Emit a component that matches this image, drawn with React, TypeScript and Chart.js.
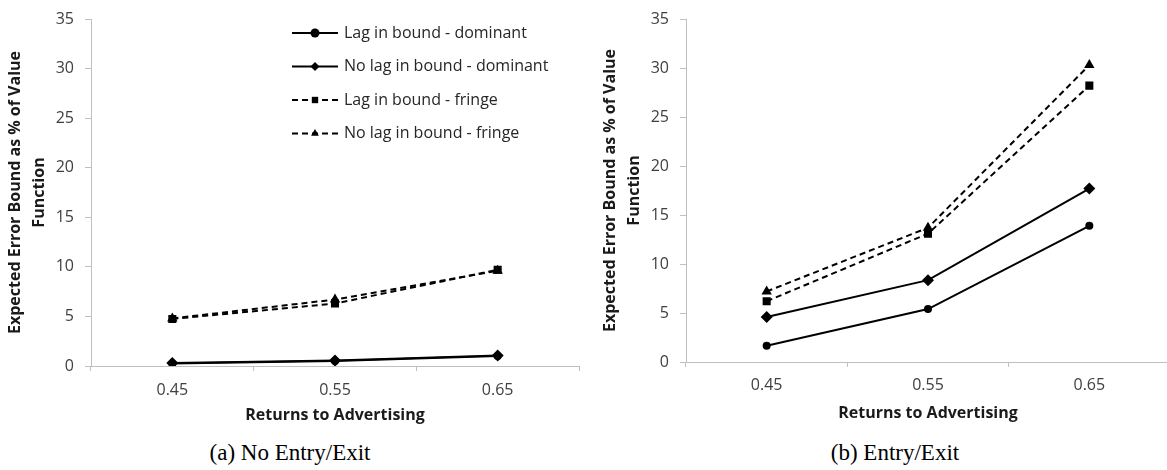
import React, { useEffect, useRef } from 'react';
import { Chart, registerables } from 'chart.js';

Chart.register(...registerables);

// ---------- data ----------
const categories = ['0.45', '0.55', '0.65'];
const seriesLabels = [
  'Lag in bound - dominant',
  'No lag in bound - dominant',
  'Lag in bound - fringe',
  'No lag in bound - fringe',
];
const yMin = 0;
const yMax = 35;
const yStep = 5;

// (a) No Entry/Exit
const noEntryLagDominant = [0.25, 0.5, 1.0];
const noEntryNoLagDominant = [0.3, 0.55, 1.05];
const noEntryLagFringe = [4.75, 6.3, 9.7];
const noEntryNoLagFringe = [4.8, 6.7, 9.6];

// (b) Entry/Exit
const entryLagDominant = [1.65, 5.4, 13.9];
const entryNoLagDominant = [4.6, 8.35, 17.7];
const entryLagFringe = [6.2, 13.1, 28.2];
const entryNoLagFringe = [7.2, 13.7, 30.3];

const xTitle = 'Returns to Advertising';
const yTitle = ['Expected Error Bound as % of Value', 'Function'];
const captionA = '(a) No Entry/Exit';
const captionB = '(b) Entry/Exit';

// ---------- styles ----------
const pointStyles = ['circle', 'rectRot', 'rect', 'triangle'];
const pointRadii = [4, 6, 5.7, 6];
const dashes = [[], [], [6, 4], [6, 4]];
const FONT = "'Open Sans', sans-serif";
const AXIS_COLOR = '#bfbfbf';

function drawMarker(ctx: CanvasRenderingContext2D, style: string, x: number, y: number, r: number) {
  ctx.beginPath();
  if (style === 'circle') {
    ctx.arc(x, y, r, 0, Math.PI * 2);
  } else if (style === 'rectRot') {
    ctx.moveTo(x, y - r);
    ctx.lineTo(x + r, y);
    ctx.lineTo(x, y + r);
    ctx.lineTo(x - r, y);
    ctx.closePath();
  } else if (style === 'rect') {
    const s = r * Math.SQRT1_2;
    ctx.rect(x - s, y - s, 2 * s, 2 * s);
  } else if (style === 'triangle') {
    const h = r * Math.sqrt(3) / 2;
    ctx.moveTo(x, y - r);
    ctx.lineTo(x + h, y + r / 2);
    ctx.lineTo(x - h, y + r / 2);
    ctx.closePath();
  }
  ctx.fill();
}

const inlineLegend = {
  id: 'inlineLegend',
  afterDraw(chart: any) {
    const opts = chart.options.plugins.inlineLegend;
    if (!opts || !opts.display) return;
    const ctx: CanvasRenderingContext2D = chart.ctx;
    const { left, top } = chart.chartArea;
    ctx.save();
    chart.data.datasets.forEach((ds: any, i: number) => {
      const y = top + opts.y0 + i * opts.rowGap;
      const xs = left + opts.x0;
      const xe = xs + opts.lineLength;
      ctx.strokeStyle = '#000';
      ctx.fillStyle = '#000';
      ctx.lineWidth = 2;
      ctx.setLineDash(ds.borderDash || []);
      ctx.beginPath();
      ctx.moveTo(xs, y);
      ctx.lineTo(xe, y);
      ctx.stroke();
      ctx.setLineDash([]);
      drawMarker(ctx, ds.pointStyle, (xs + xe) / 2, y, opts.markerRadius);
      ctx.fillStyle = '#262626';
      ctx.font = `16px ${FONT}`;
      ctx.textBaseline = 'middle';
      ctx.textAlign = 'left';
      ctx.fillText(ds.label, xe + opts.textGap, y);
    });
    ctx.restore();
  },
};

type PanelProps = {
  series: number[][];
  left: number;
  top: number;
  width: number;
  height: number;
  axisX: number; // y-scale width
  areaTop: number;
  xScaleHeight: number;
  xLabelPad: number;
  yTitlePad: number;
  legend: boolean;
};

function Panel(p: PanelProps) {
  const ref = useRef<HTMLCanvasElement | null>(null);
  useEffect(() => {
    if (!ref.current) return;
    const datasets = p.series.map((values, i) => ({
      label: seriesLabels[i],
      data: values,
      borderColor: '#000',
      backgroundColor: '#000',
      borderWidth: 2,
      borderDash: dashes[i],
      pointStyle: pointStyles[i],
      pointRadius: pointRadii[i],
      pointBorderWidth: 0,
      pointBackgroundColor: '#000',
      tension: 0,
      fill: false,
    }));
    const chart = new Chart(ref.current, {
      type: 'line',
      data: { labels: categories, datasets },
      plugins: [inlineLegend],
      options: {
        responsive: false,
        animation: false,
        layout: { padding: { top: p.areaTop, right: 4, bottom: 0, left: 0 } },
        plugins: {
          legend: { display: false },
          tooltip: { enabled: false },
          inlineLegend: {
            display: p.legend,
            x0: 201,
            y0: 14,
            rowGap: 33.5,
            lineLength: 46,
            textGap: 6,
            markerRadius: 4.5,
          },
        } as any,
        scales: {
          x: {
            type: 'category',
            offset: true,
            grid: {
              display: true,
              offset: true,
              drawOnChartArea: false,
              drawTicks: true,
              tickLength: 5,
              color: AXIS_COLOR,
            },
            border: { display: true, color: AXIS_COLOR, width: 1 },
            ticks: {
              color: '#404040',
              font: { family: FONT, size: 16, lineHeight: 1.2 },
              padding: p.xLabelPad,
              maxRotation: 0,
            },
            title: {
              display: true,
              text: xTitle,
              color: '#1a1a1a',
              font: { family: FONT, size: 16, weight: 'bold', lineHeight: 1.25 },
              padding: { top: 0, bottom: 0 },
            },
            afterFit: (scale: any) => {
              scale.height = p.xScaleHeight;
            },
          },
          y: {
            type: 'linear',
            min: yMin,
            max: yMax,
            ticks: {
              stepSize: yStep,
              color: '#404040',
              font: { family: FONT, size: 16, lineHeight: 1.0 },
              padding: 11,
            },
            grid: {
              display: true,
              drawOnChartArea: false,
              drawTicks: true,
              tickLength: 6,
              color: AXIS_COLOR,
            },
            border: { display: true, color: AXIS_COLOR, width: 1 },
            title: {
              display: true,
              text: yTitle,
              color: '#1a1a1a',
              font: { family: FONT, size: 16, weight: 'bold', lineHeight: 1.5 },
              padding: { top: p.yTitlePad, bottom: 0 },
            },
            afterFit: (scale: any) => {
              scale.width = p.axisX;
            },
          },
        },
      } as any,
    });
    return () => chart.destroy();
  }, []);
  return (
    <canvas
      ref={ref}
      width={p.width}
      height={p.height}
      style={{ position: 'absolute', left: p.left, top: p.top, width: p.width, height: p.height }}
    />
  );
}

const captionStyle: React.CSSProperties = {
  position: 'absolute',
  fontFamily: "'Liberation Serif', 'Times New Roman', serif",
  fontSize: 23,
  lineHeight: '23px',
  color: '#000',
  textAlign: 'center',
  whiteSpace: 'nowrap',
};

export default function App() {
  return (
    <div
      style={{
        position: 'fixed',
        left: 0,
        top: 0,
        width: 1167,
        height: 470,
        overflow: 'hidden',
        background: '#fff',
      }}
    >
      <Panel
        series={[noEntryLagDominant, noEntryNoLagDominant, noEntryLagFringe, noEntryNoLagFringe]}
        left={0}
        top={0}
        width={585}
        height={366 + 59}
        axisX={91}
        areaTop={14}
        xScaleHeight={59}
        xLabelPad={10}
        yTitlePad={3}
        legend={true}
      />
      <Panel
        series={[entryLagDominant, entryNoLagDominant, entryLagFringe, entryNoLagFringe]}
        left={585}
        top={0}
        width={591}
        height={362 + 61}
        axisX={101}
        areaTop={8}
        xScaleHeight={61}
        xLabelPad={9}
        yTitlePad={13}
        legend={false}
      />
      <div style={{ ...captionStyle, left: 0, width: 580, top: 441 }}>{captionA}</div>
      <div style={{ ...captionStyle, left: 595, width: 600, top: 441 }}>{captionB}</div>
    </div>
  );
}
